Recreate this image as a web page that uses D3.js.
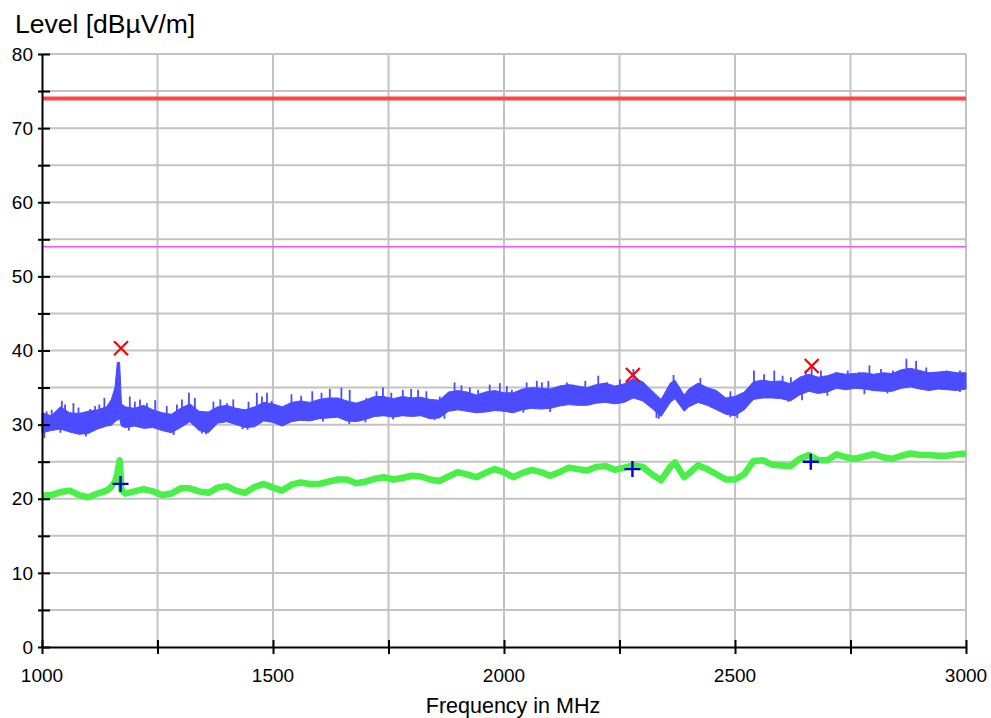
<!DOCTYPE html>
<html>
<head>
<meta charset="utf-8">
<script src="https://cdn.jsdelivr.net/npm/d3@7"></script>
<style>
    body { margin: 0; background: #fff; }
    text { font-family: Arial, 'Liberation Sans', sans-serif; fill: #000; }
</style>
</head>
<body>
<svg id="chart" width="991" height="718"></svg>
<script>
// sample frequencies (MHz)
const freq = [1000, 1020, 1040, 1060, 1080, 1100, 1120, 1140, 1150, 1158, 1163, 1168, 1172, 1180, 1200, 1220, 1240, 1260, 1280, 1300,
    1320, 1340, 1360, 1380, 1400, 1420, 1440, 1460, 1480, 1500, 1520, 1540, 1560, 1580, 1600, 1620, 1640, 1660, 1680, 1700,
    1720, 1740, 1760, 1780, 1800, 1820, 1840, 1860, 1880, 1900, 1920, 1940, 1960, 1980, 2000, 2020, 2040, 2060, 2080, 2100,
    2120, 2140, 2160, 2180, 2200, 2220, 2240, 2260, 2280, 2300, 2320, 2340, 2360, 2370, 2390, 2400, 2420, 2440, 2460, 2480,
    2500, 2520, 2540, 2560, 2580, 2600, 2620, 2640, 2660, 2680, 2700, 2720, 2740, 2760, 2780, 2800, 2820, 2840, 2860, 2880,
    2900, 2920, 2940, 2960, 2980, 3000];

// peak trace: upper / lower edge of the noise band (dBuV/m)
const peakHi = [31.6, 31.2, 32.4, 31.6, 31.5, 31.8, 32.0, 32.4, 33.4, 35.0, 38.4, 38.4, 32.8, 32.4, 32.2, 32.6, 32.0, 31.6, 31.4, 32.2,
    32.8, 31.8, 31.7, 32.4, 32.6, 32.2, 32.0, 32.4, 33.0, 32.8, 32.4, 33.0, 33.2, 33.0, 33.4, 33.6, 33.6, 33.2, 32.9, 33.3,
    33.8, 33.8, 33.5, 33.8, 33.6, 33.7, 33.4, 33.3, 34.4, 34.6, 34.4, 34.0, 34.4, 34.6, 34.3, 34.3, 34.8, 35.0, 34.9, 34.8,
    35.2, 35.4, 35.2, 35.0, 35.4, 35.6, 35.2, 35.5, 36.2, 35.8, 34.6, 33.4, 35.6, 36.0, 34.0, 34.8, 35.6, 35.0, 34.6, 33.6,
    33.8, 34.4, 35.8, 36.0, 35.8, 35.9, 35.5, 36.4, 36.8, 36.4, 36.6, 37.0, 36.8, 36.9, 37.0, 36.8, 37.0, 36.9, 37.4, 37.6,
    37.3, 37.0, 37.1, 37.2, 37.0, 37.0];
const peakLo = [28.9, 29.2, 29.4, 29.0, 28.7, 28.8, 29.4, 29.8, 29.9, 30.4, 30.6, 30.8, 29.8, 29.6, 29.8, 29.5, 29.6, 29.2, 28.9, 29.6,
    30.4, 29.2, 28.9, 30.2, 30.4, 30.0, 29.6, 29.7, 30.5, 30.3, 29.8, 30.4, 30.6, 30.5, 30.8, 30.9, 31.0, 30.5, 30.4, 30.7,
    31.1, 31.2, 31.0, 31.2, 31.1, 31.2, 30.8, 30.9, 31.8, 32.0, 31.8, 31.6, 31.7, 31.9, 31.8, 31.6, 32.0, 32.2, 32.1, 32.2,
    32.5, 32.7, 32.6, 32.6, 32.9, 33.0, 32.8, 33.0, 33.6, 33.2, 32.2, 31.1, 33.0, 33.5, 31.8, 32.4, 33.0, 32.6, 32.0, 31.4,
    31.2, 32.0, 33.4, 33.6, 33.6, 33.5, 33.2, 34.0, 34.5, 34.2, 34.4, 34.9, 34.7, 34.9, 34.8, 34.6, 34.5, 34.5, 34.9, 35.1,
    34.8, 34.6, 34.8, 34.7, 34.6, 34.8];

// average trace
const avg = [20.4, 20.5, 20.9, 21.1, 20.5, 20.2, 20.7, 21.1, 21.6, 22.3, 23.4, 25.2, 21.2, 20.7, 21.0, 21.3, 21.0, 20.5, 20.7, 21.4,
    21.4, 21.0, 20.8, 21.5, 21.7, 21.1, 20.8, 21.6, 22.0, 21.5, 21.1, 21.9, 22.2, 22.0, 22.0, 22.3, 22.6, 22.6, 22.1, 22.3,
    22.7, 22.9, 22.6, 22.8, 23.1, 23.0, 22.6, 22.4, 23.0, 23.6, 23.3, 22.9, 23.5, 24.0, 23.6, 22.9, 23.5, 23.9, 23.6, 23.1,
    23.6, 24.2, 24.0, 23.8, 24.3, 24.4, 23.9, 24.2, 24.5, 24.3, 23.3, 22.5, 24.3, 24.9, 22.9, 23.4, 24.5, 24.0, 23.3, 22.6,
    22.6, 23.3, 25.1, 25.2, 24.6, 24.5, 24.4, 25.4, 25.9, 25.2, 25.2, 26.0, 25.6, 25.4, 25.7, 26.0, 25.6, 25.4, 25.8, 26.1,
    25.9, 25.9, 25.8, 25.8, 26.0, 26.1];

// single spikes sticking out of the peak band [MHz, dBuV/m]
const peakSpikesUp = [[1010, 31.8], [1021, 32.0], [1043, 33.2], [1050, 32.7], [1068, 32.9], [1079, 32.3], [1104, 32.1], [1115, 32.5],
    [1124, 32.7], [1135, 33.6], [1190, 33.8], [1201, 33.1], [1212, 33.4], [1227, 32.9], [1245, 33.3], [1270, 32.5], [1292, 32.7],
    [1303, 33.4], [1318, 34.3], [1331, 33.6], [1371, 33.1], [1386, 33.4], [1400, 32.9], [1414, 33.4], [1447, 33.1], [1465, 34.3],
    [1476, 33.8], [1487, 34.3], [1497, 33.2], [1540, 34.1], [1561, 33.9], [1585, 34.5], [1605, 34.3], [1623, 34.8], [1648, 35.0],
    [1666, 34.7], [1702, 33.6], [1724, 34.5], [1738, 35.0], [1756, 34.3], [1781, 34.7], [1799, 34.8], [1814, 34.7], [1832, 34.5],
    [1861, 33.8], [1893, 35.7], [1908, 35.3], [1926, 35.0], [1944, 34.7], [1969, 35.4], [1991, 35.6], [2006, 35.2], [2017, 34.7],
    [2049, 35.7], [2071, 35.9], [2082, 35.7], [2096, 35.9], [2136, 35.7], [2150, 35.4], [2176, 35.9], [2204, 36.6], [2223, 35.7],
    [2251, 36.1], [2280, 37.5], [2367, 36.7], [2410, 35.2], [2425, 36.3], [2490, 34.5], [2541, 37.3], [2563, 36.8], [2585, 37.3],
    [2603, 36.6], [2621, 36.4], [2653, 37.3], [2666, 38.0], [2686, 37.3], [2719, 37.1], [2744, 37.3], [2769, 37.1], [2791, 38.0],
    [2816, 37.5], [2842, 37.3], [2871, 38.9], [2892, 38.6], [2914, 37.7], [2936, 37.1], [2958, 37.3], [2987, 37.3]];
const peakSpikesDown = [[1005, 28.2], [1040, 28.9], [1095, 28.4], [1188, 29.2], [1270, 29.0], [1285, 28.6], [1346, 28.8],
    [1355, 28.7], [1434, 29.4], [1445, 29.3], [1520, 29.9], [1563, 30.5], [1608, 30.4], [1665, 30.1], [1700, 30.3], [1760, 30.7],
    [1850, 30.6], [1871, 30.8], [2042, 31.6], [2100, 31.7], [2330, 30.9], [2335, 30.8], [2490, 31.0], [2505, 30.9], [2615, 33.1],
    [2645, 33.3], [2700, 33.9], [2780, 34.1], [2830, 34.2], [2987, 34.4]];

// final measurement markers
const peakMarks = [[1171, 40.3], [2279, 36.7], [2666, 37.9]];
const avgMarks = [[1170, 22.0], [2278, 24.0], [2664, 25.0]];

// limit lines
const limitPeak = 74;
const limitAvg = 54;

const xTicks = [1000, 1250, 1500, 1750, 2000, 2250, 2500, 2750, 3000];
const xLabels = [1000, 1500, 2000, 2500, 3000];
const yTicks = [0, 5, 10, 15, 20, 25, 30, 35, 40, 45, 50, 55, 60, 65, 70, 75, 80];

const margin = { top: 54, right: 25, left: 42, bottom: 71 };
const width = 991 - margin.left - margin.right;
const height = 718 - margin.top - margin.bottom;

const svg = d3.select('#chart');
const g = svg.append('g')
    .attr('transform', `translate(${margin.left}, ${margin.top})`);

const xScale = d3.scaleLinear().domain([1000, 3000]).range([0, width]);
const yScale = d3.scaleLinear().domain([0, 80]).range([height, 0]);

// grid
g.selectAll('.vgrid')
    .data(xTicks.slice(1))
    .enter().append('line')
    .attr('x1', d => xScale(d)).attr('x2', d => xScale(d))
    .attr('y1', 0).attr('y2', height)
    .attr('stroke', '#c3c3c3').attr('stroke-width', 2);

g.selectAll('.hgrid')
    .data(yTicks.slice(1))
    .enter().append('line')
    .attr('x1', 0).attr('x2', width)
    .attr('y1', d => yScale(d)).attr('y2', d => yScale(d))
    .attr('stroke', '#c3c3c3').attr('stroke-width', 2);

// limit lines
g.append('line')
    .attr('x1', 0).attr('x2', width)
    .attr('y1', yScale(limitPeak)).attr('y2', yScale(limitPeak))
    .attr('stroke', '#ff4646').attr('stroke-width', 4);

g.append('line')
    .attr('x1', 0).attr('x2', width)
    .attr('y1', yScale(limitAvg)).attr('y2', yScale(limitAvg))
    .attr('stroke', '#ff50ff').attr('stroke-width', 1.6);

// peak trace
const blue = '#4b4bff';
const peakData = freq.map((f, i) => ({ f: f, hi: peakHi[i], lo: peakLo[i] }));

g.append('path')
    .datum(peakData)
    .attr('fill', blue)
    .attr('stroke', blue)
    .attr('stroke-width', 1)
    .attr('d', d3.area()
        .x(d => xScale(d.f))
        .y0(d => yScale(d.lo))
        .y1(d => yScale(d.hi)));

// band centre at a given frequency, used as the spike base
const hiAt = d3.scaleLinear().domain(freq).range(peakHi);
const loAt = d3.scaleLinear().domain(freq).range(peakLo);
const bandMid = f => (hiAt(f) + loAt(f)) / 2;

g.selectAll('.spike')
    .data(peakSpikesUp.concat(peakSpikesDown))
    .enter().append('line')
    .attr('x1', d => xScale(d[0])).attr('x2', d => xScale(d[0]))
    .attr('y1', d => yScale(bandMid(d[0])))
    .attr('y2', d => yScale(d[1]))
    .attr('stroke', blue).attr('stroke-width', 1.8);

// average trace
g.append('path')
    .datum(freq.map((f, i) => ({ f: f, v: avg[i] })))
    .attr('fill', 'none')
    .attr('stroke', '#48f048')
    .attr('stroke-width', 6.5)
    .attr('stroke-linejoin', 'round')
    .attr('d', d3.line()
        .x(d => xScale(d.f))
        .y(d => yScale(d.v)));

// markers
g.selectAll('.xmark')
    .data(peakMarks)
    .enter().append('path')
    .attr('transform', d => `translate(${xScale(d[0])},${yScale(d[1])})`)
    .attr('d', 'M-7,-7L7,7M-7,7L7,-7')
    .attr('stroke', '#ff0000').attr('stroke-width', 2.2).attr('fill', 'none');

g.selectAll('.pmark')
    .data(avgMarks)
    .enter().append('path')
    .attr('transform', d => `translate(${xScale(d[0])},${yScale(d[1])})`)
    .attr('d', 'M-8,0L8,0M0,-8L0,8')
    .attr('stroke', '#0000d0').attr('stroke-width', 2.4).attr('fill', 'none');

// axes
const xAxis = g.append('g')
    .attr('transform', `translate(0,${height})`)
    .call(d3.axisBottom(xScale).tickValues(xTicks).tickSize(0).tickFormat(''));
xAxis.select('.domain').attr('stroke', '#000').attr('stroke-width', 2);
xAxis.selectAll('.tick line').attr('y1', -7).attr('y2', 7).attr('stroke', '#000').attr('stroke-width', 2);

const yAxis = g.append('g')
    .call(d3.axisLeft(yScale).tickValues(yTicks).tickSize(0).tickFormat(''));
yAxis.select('.domain').attr('stroke', '#000').attr('stroke-width', 2);
yAxis.selectAll('.tick line').attr('x1', -4).attr('x2', 8).attr('stroke', '#000').attr('stroke-width', 2);

g.selectAll('.ylabel')
    .data(yTicks.filter(d => d % 10 === 0))
    .enter().append('text')
    .attr('x', -9)
    .attr('y', d => yScale(d))
    .attr('dy', '0.35em')
    .attr('text-anchor', 'end')
    .style('font-size', '19px')
    .text(d => d);

g.selectAll('.xlabel')
    .data(xLabels)
    .enter().append('text')
    .attr('x', d => xScale(d))
    .attr('y', height + 34.5)
    .attr('text-anchor', 'middle')
    .style('font-size', '19px')
    .text(d => d);

svg.append('text')
    .attr('x', 15)
    .attr('y', 33)
    .style('font-size', '26.5px')
    .text('Level [dBµV/m]');

svg.append('text')
    .attr('x', margin.left + width / 2 + 9)
    .attr('y', 713)
    .attr('text-anchor', 'middle')
    .style('font-size', '21.5px')
    .text('Frequency in MHz');
</script>
</body>
</html>
